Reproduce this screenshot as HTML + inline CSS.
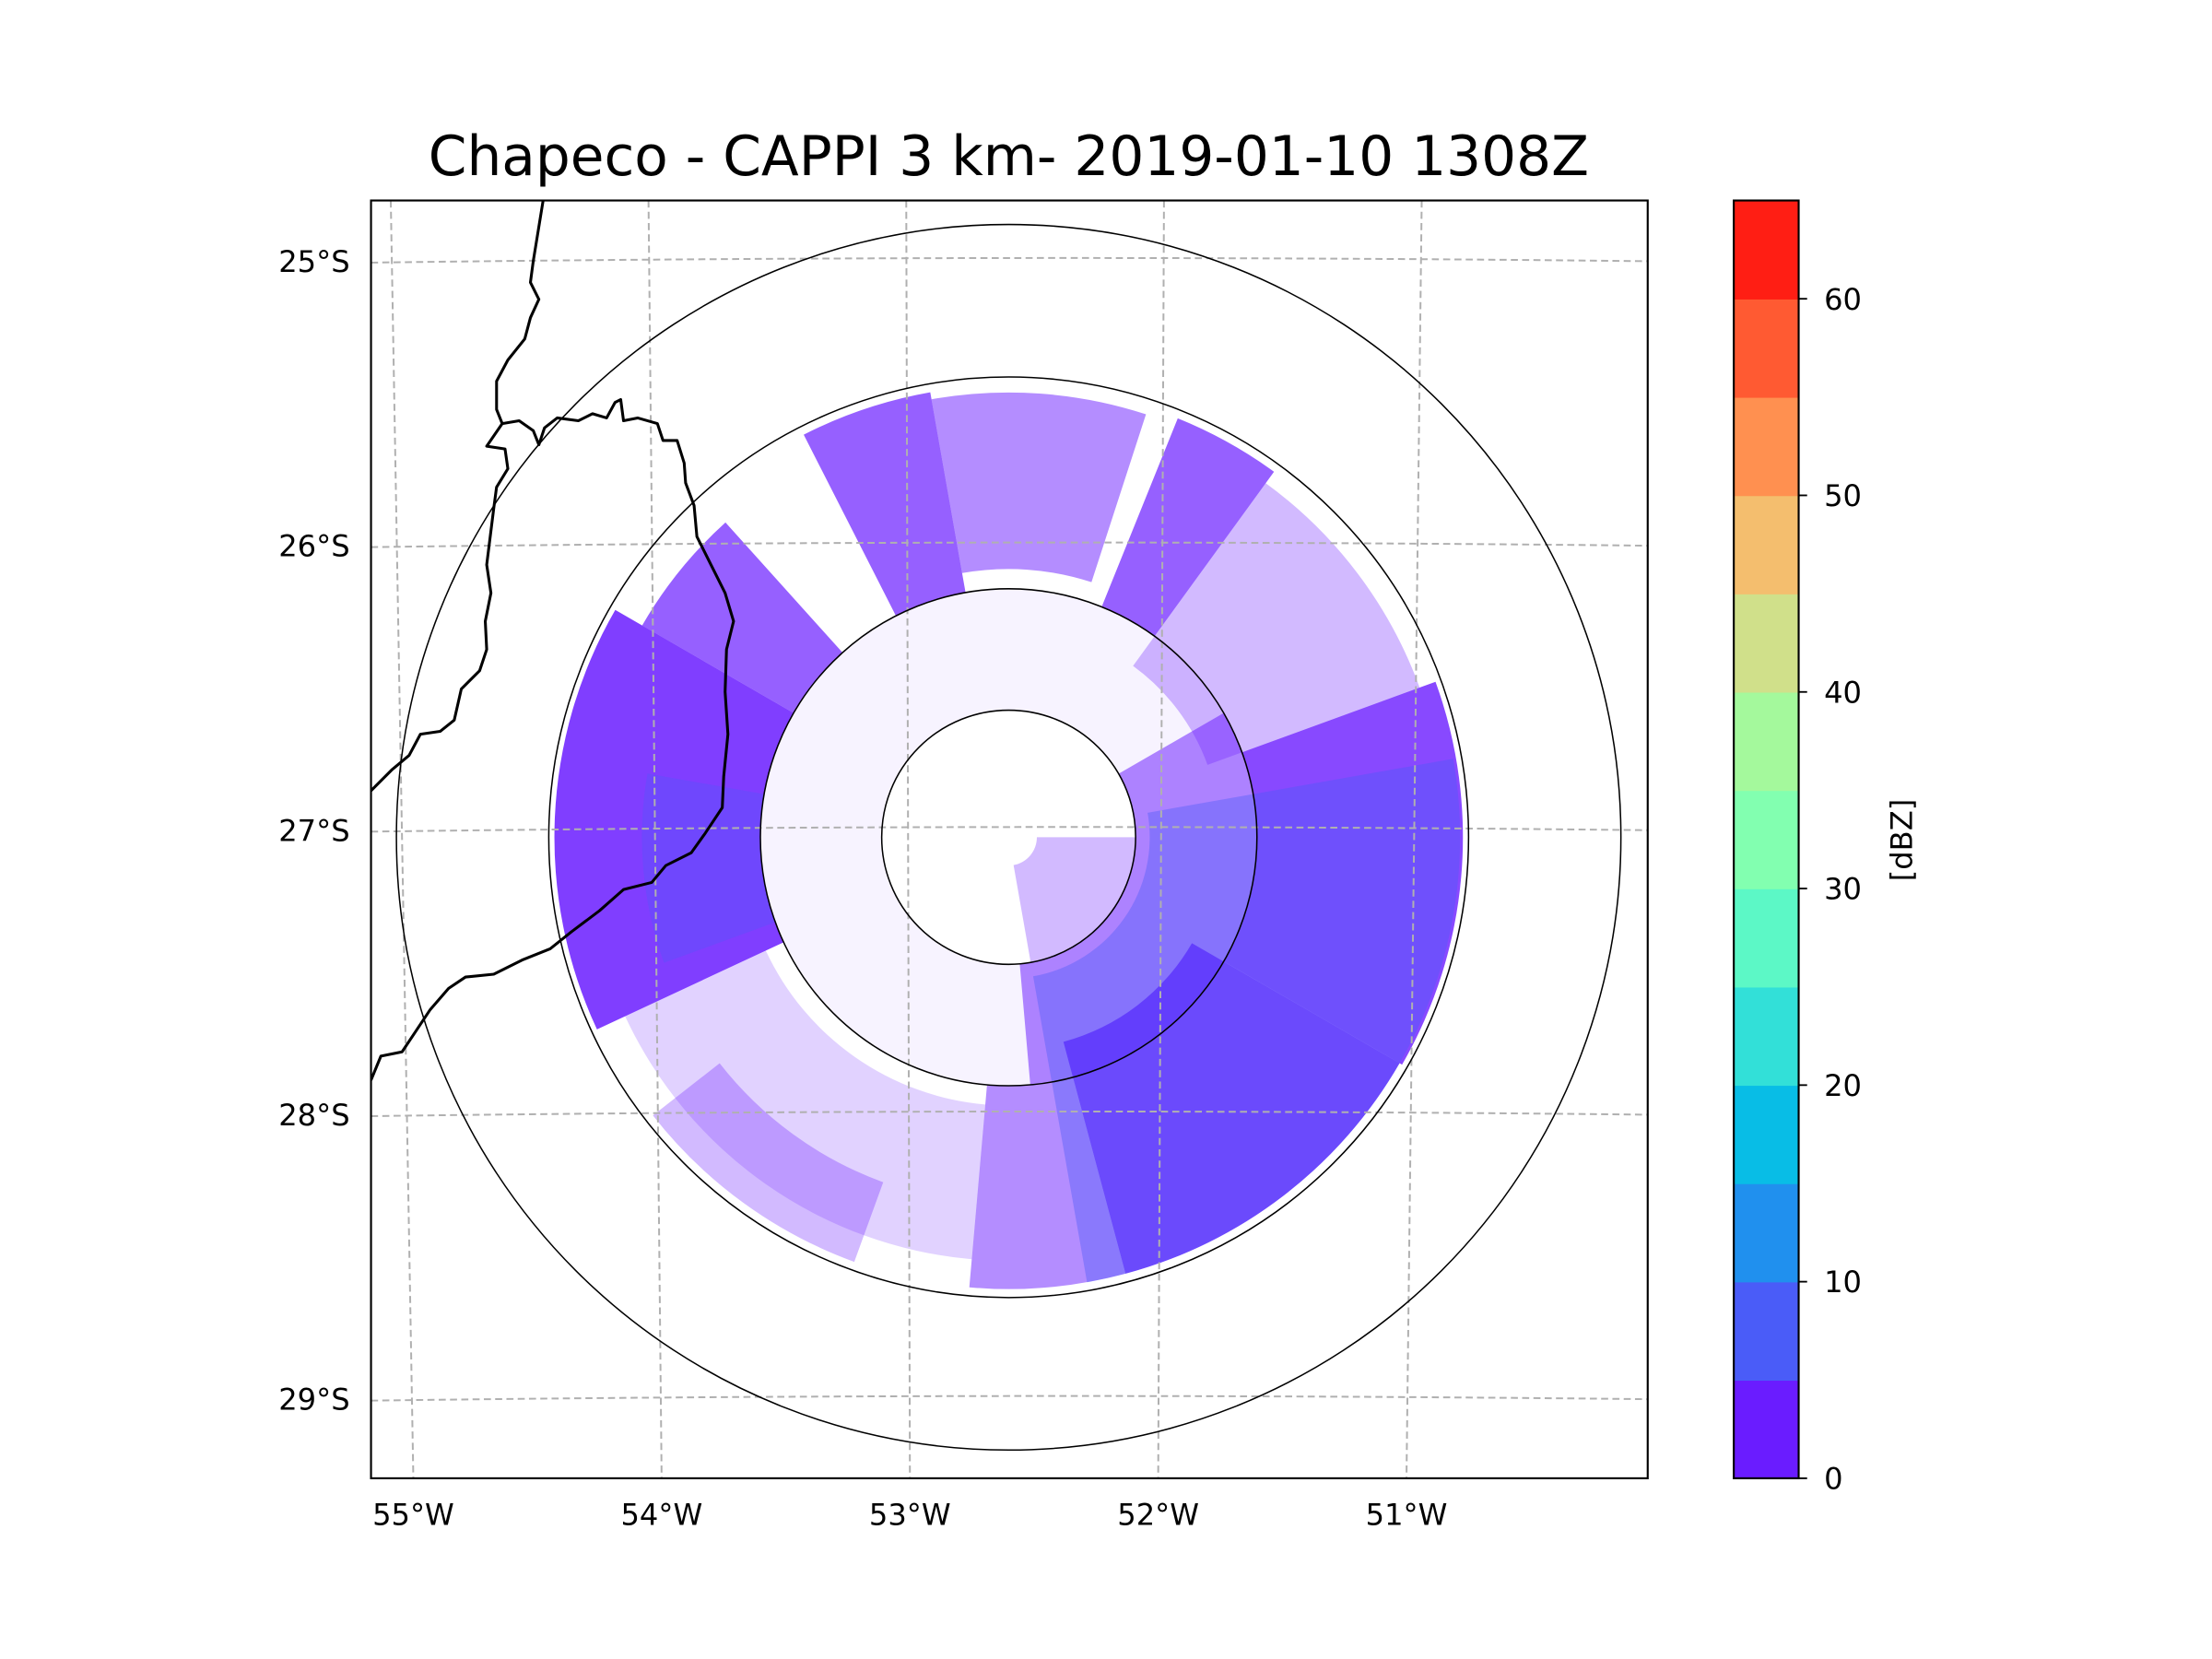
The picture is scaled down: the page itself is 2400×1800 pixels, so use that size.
<!DOCTYPE html>
<html><head><meta charset="utf-8"><style>
html,body{margin:0;padding:0;background:#fff;}
svg{display:block;}
text{font-family:"DejaVu Sans","Liberation Sans",sans-serif;fill:#000;}
</style></head><body>
<svg id="chart" width="2400" height="1800" viewBox="0 0 1568 1175" preserveAspectRatio="none" xmlns="http://www.w3.org/2000/svg">
<rect width="1568" height="1175" fill="#fff"/>
<text x="715" y="124" font-size="39" text-anchor="middle">Chapeco - CAPPI 3 km- 2019-01-10 1308Z</text>
<defs><clipPath id="axclip"><rect x="263" y="142" width="905" height="905"/></clipPath></defs>
<g id="plot" clip-path="url(#axclip)">
<g id="echoes"></g>
<g id="grid"></g>
<g id="rings"></g>
<path fill="none" stroke="#000" stroke-width="2" stroke-linejoin="round"
 d="M385,142 L378,185 L376,200 L382,212 L376,225 L372,240 L360,255 L352,270 L352,290 L356,300 L345,316 L358,318 L360,332 L352,345 L350,360 L345,400 L348,420 L344,440 L345,460 L340,475 L327,488 L322,510 L312,518 L298,520 L290,535 L278,545 L263,560"/>
<path fill="none" stroke="#000" stroke-width="2" stroke-linejoin="round"
 d="M356,300 L368,298 L378,305 L382,315 L386,303 L395,296 L410,298 L420,293 L430,296 L436,285 L440,283 L442,298 L452,296 L466,300 L470,312 L480,312 L485,328 L486,342 L492,358 L494,380 L504,400 L514,420 L520,440 L515,460 L514,490 L516,520 L513,550 L512,572 L500,590 L490,604 L472,613 L462,625 L442,630 L425,645 L405,660 L390,672 L370,680 L350,690 L330,692 L318,700 L305,715 L295,730 L285,745 L270,748 L263,765"/>
</g>
<rect x="263" y="142" width="905" height="905" fill="none" stroke="#000" stroke-width="1.4"/>
<g id="axislabels"></g>
<g id="cbar"></g>
<text transform="translate(1348,595) rotate(-90)" font-size="21" text-anchor="middle" dy="0.35em">[dBZ]</text>
</svg>
<script>
// Radar echo sectors (azimuth deg clockwise from north, range in ring units, coverage fraction, dBZ)
const echoAzStart = [245,300,333,350,22,36,70,120,165,185,60,175,90,80,200,250];
const echoAzEnd   = [300,318,350,378,36,70,120,165,185,245,175,420,170,170,232,280];
const echoRInner  = [176,176,176,190,176,150,176,150,176,190,90,90,20,100,260,176];
const echoROuter  = [322,300,320,315,320,310,322,320,320,300,176,176,90,320,320,260];
const echoCoverage= [0.85,0.7,0.7,0.5,0.7,0.3,0.8,0.85,0.5,0.2,0.55,0.05,0.3,0.4,0.3,0.3];
const echoDbz     = [2,2,2,2,2,2,2,2,2,2,2,2,2,7,2,7];
const ringRadii = [90,176,326,434];
const latTicks = [25,26,27,28,29];
const lonTicks = [55,54,53,52,51];
const cbarLevels = [0,5,10,15,20,25,30,35,40,45,50,55,60,65];
const cbarColors = ["#6a1cff","#4a5cf8","#2090ee","#08bde6","#32e0d8","#5cf8c6","#82ffb0","#a4f99c","#d0e08a","#f4be6e","#ff9050","#ff5a32","#ff1e14"];
const cbarTicks = [0,10,20,30,40,50,60];

const NS="http://www.w3.org/2000/svg";
const cx=715, cy=593;
function mk(tag,attrs,parent){const e=document.createElementNS(NS,tag);for(const k in attrs)e.setAttribute(k,attrs[k]);parent.appendChild(e);return e;}
function pol(az,r){const a=az*Math.PI/180;return [cx+r*Math.sin(a),cy-r*Math.cos(a)];}
function colorFor(d){return cbarColors[Math.min(cbarColors.length-1,Math.floor(d/5))];}
function latY(lat){return 185+(lat-25)*201.5;}
function lonXTop(lon){return 277+(55-lon)*182.7;}
function lonXBot(lon){return 293+(55-lon)*176;}

const echoes=document.getElementById('echoes');
for(let i=0;i<echoAzStart.length;i++){
  const a0=echoAzStart[i],a1=echoAzEnd[i],r0=echoRInner[i],r1=echoROuter[i];
  const p1=pol(a0,r1),p2=pol(a1,r1),p3=pol(a1,r0),p4=pol(a0,r0);
  const large=(a1-a0)>180?1:0;
  const d=`M${p1[0]},${p1[1]} A${r1},${r1} 0 ${large} 1 ${p2[0]},${p2[1]} L${p3[0]},${p3[1]} A${r0},${r0} 0 ${large} 0 ${p4[0]},${p4[1]} Z`;
  const el=mk('path',{d:d,fill:colorFor(echoDbz[i]),'fill-opacity':echoCoverage[i]},echoes);
  
  
}
const grid=document.getElementById('grid');
latTicks.forEach(lat=>{
  const y=latY(lat);
  const el=mk('path',{d:`M263,${y+1} Q715,${y-5} 1168,${y}`,fill:'none',stroke:'#b0b0b0','stroke-width':1.3,'stroke-dasharray':'5,3'},grid);
  
  
});
lonTicks.forEach(lon=>{
  const el=mk('line',{x1:lonXTop(lon),y1:142,x2:lonXBot(lon),y2:1047,stroke:'#b0b0b0','stroke-width':1.3,'stroke-dasharray':'5,3'},grid);
  
  
});
const rings=document.getElementById('rings');
ringRadii.forEach(r=>{
  const el=mk('circle',{cx:cx,cy:cy,r:r,fill:'none',stroke:'#000','stroke-width':1},rings);
  
  
});
const al=document.getElementById('axislabels');
latTicks.forEach(lat=>{
  const t=mk('text',{x:248,y:latY(lat),'font-size':21,'text-anchor':'end',dy:'0.36em'},al);
  t.textContent=lat+'°S';
  
  
});
lonTicks.forEach(lon=>{
  const t=mk('text',{x:lonXBot(lon),y:1080,'font-size':21,'text-anchor':'middle'},al);
  t.textContent=lon+'°W';
  
  
});
const cb=document.getElementById('cbar');
const cbTop=142,cbBot=1047,cbX=1229,cbW=46;
function cbY(v){return cbBot-(v-cbarLevels[0])/(cbarLevels[cbarLevels.length-1]-cbarLevels[0])*(cbBot-cbTop);}
for(let i=0;i<cbarColors.length;i++){
  const y0=cbY(cbarLevels[i+1]),y1=cbY(cbarLevels[i]);
  const r=mk('rect',{x:cbX,y:y0,width:cbW,height:y1-y0+0.5,fill:cbarColors[i]},cb);
  
  
}
const fr=mk('rect',{x:cbX,y:cbTop,width:cbW,height:cbBot-cbTop,fill:'none',stroke:'#000','stroke-width':1.4},cb);


cbarTicks.forEach(v=>{
  const y=cbY(v);
  const l=mk('line',{x1:cbX+cbW,y1:y,x2:cbX+cbW+6,y2:y,stroke:'#000','stroke-width':1.2},cb);
  
  
  const t=mk('text',{x:1293,y:y,'font-size':21,dy:'0.36em'},cb);
  t.textContent=v;
  
  
});
</script>
</body></html>
